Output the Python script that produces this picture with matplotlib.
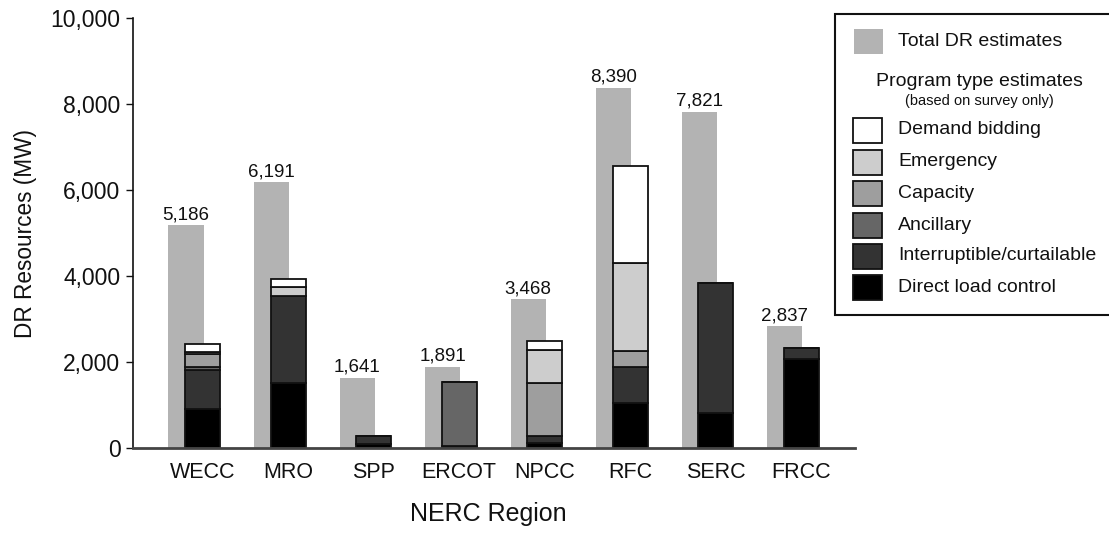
import matplotlib
matplotlib.use("Agg")
import matplotlib.pyplot as plt
from matplotlib.patches import Rectangle
import numpy as np

plt.rcParams['font.family'] = ['Liberation Sans', 'DejaVu Sans']

regions = ["WECC", "MRO", "SPP", "ERCOT", "NPCC", "RFC", "SERC", "FRCC"]
total_dr = [5186, 6191, 1641, 1891, 3468, 8390, 7821, 2837]

direct_load_control = [914, 1526, 93, 53, 116, 1054, 814, 2070]
interruptible = [916, 2023, 193, 0, 170, 844, 3038, 270]
ancillary = [60, 0, 0, 1496, 0, 0, 0, 0]
capacity = [300, 0, 0, 0, 1226, 358, 0, 0]
emergency = [60, 196, 0, 0, 774, 2054, 0, 0]
demand_bidding = [169, 193, 0, 0, 210, 2249, 0, 0]

program_series = [
    ("Direct load control", direct_load_control, "#000000"),
    ("Interruptible/curtailable", interruptible, "#333333"),
    ("Ancillary", ancillary, "#666666"),
    ("Capacity", capacity, "#9e9e9e"),
    ("Emergency", emergency, "#cdcdcd"),
    ("Demand bidding", demand_bidding, "#ffffff"),
]
total_color = "#b3b3b3"

W, H = 1109, 533
fig = plt.figure(figsize=(W / 100, H / 100), dpi=100)
ax = fig.add_axes([133 / W, 1 - 448.3 / H, (855 - 133) / W, (448.3 - 18.3) / H])

x = np.arange(len(regions))
bw = 0.41
off = 0.193

ax.bar(x - off, total_dr, width=bw, color=total_color, edgecolor="none", zorder=1)
for xi, v in zip(x, total_dr):
    ax.annotate(f"{v:,}", (xi - off, v), xytext=(0, 1.5), textcoords="offset points",
                ha="center", va="bottom", fontsize=13.5, color="#111111")

bottom = np.zeros(len(regions))
for name, vals, col in program_series:
    vals = np.array(vals, dtype=float)
    ax.bar(x, vals, width=bw, bottom=bottom, color=col, edgecolor="#111111",
           linewidth=1.3, zorder=2)
    bottom += vals

ax.set_xlim(-0.813, 7.63)
ax.set_ylim(0, 10000)
ax.set_yticks(np.arange(0, 10001, 2000))
ax.set_yticklabels([f"{v:,}" for v in range(0, 10001, 2000)])
ax.set_xticks(x)
ax.set_xticklabels(regions)
ax.tick_params(axis="y", labelsize=16.5, length=5, width=1, pad=4, colors="#111111")
ax.tick_params(axis="x", labelsize=15.5, length=0, pad=10, colors="#111111")

for s in ["top", "right"]:
    ax.spines[s].set_visible(False)
ax.spines["left"].set_color("#111111")
ax.spines["left"].set_linewidth(1.2)
ax.spines["bottom"].set_color("#444444")
ax.spines["bottom"].set_linewidth(2)

ax.set_xlabel("NERC Region", fontsize=18, color="#111111")
ax.xaxis.set_label_coords((488 - 133) / (855 - 133), -(502 - 448.3) / 430)
ax.set_ylabel("DR Resources (MW)", fontsize=16.3, color="#111111")
ax.yaxis.set_label_coords(-(133 - 37) / (855 - 133), 0.5)

# Legend box drawn in figure pixel coordinates
def fx(px):
    return px / W

def fy(py):
    return 1 - py / H

fig.add_artist(Rectangle((fx(835), fy(315)), fx(1120) - fx(835), fy(14) - fy(315),
                         transform=fig.transFigure, facecolor="white", edgecolor="#111111",
                         linewidth=1.5, zorder=5))
fig.add_artist(Rectangle((fx(854), fy(54)), fx(883) - fx(854), fy(29) - fy(54),
                         transform=fig.transFigure, facecolor=total_color, edgecolor="none",
                         zorder=6))
fig.text(fx(898), fy(42), "Total DR estimates", fontsize=14, va="center", ha="left",
         color="#111111", zorder=7)
fig.text(fx(979), fy(82), "Program type estimates", fontsize=14, va="center", ha="center",
         color="#111111", zorder=7)
fig.text(fx(979), fy(101), "(based on survey only)", fontsize=10.5, va="center", ha="center",
         color="#111111", zorder=7)

legend_order = list(reversed(program_series))
ys = [130, 162, 193, 225, 256, 287]
for (name, vals, col), yc in zip(legend_order, ys):
    fig.add_artist(Rectangle((fx(853), fy(yc + 12.5)), fx(882) - fx(853), fy(yc - 12.5) - fy(yc + 12.5),
                             transform=fig.transFigure, facecolor=col, edgecolor="#111111",
                             linewidth=1.3, zorder=6))
    fig.text(fx(898), fy(yc), name, fontsize=14, va="center", ha="left",
             color="#111111", zorder=7)

fig.savefig("out.png", dpi=100)
